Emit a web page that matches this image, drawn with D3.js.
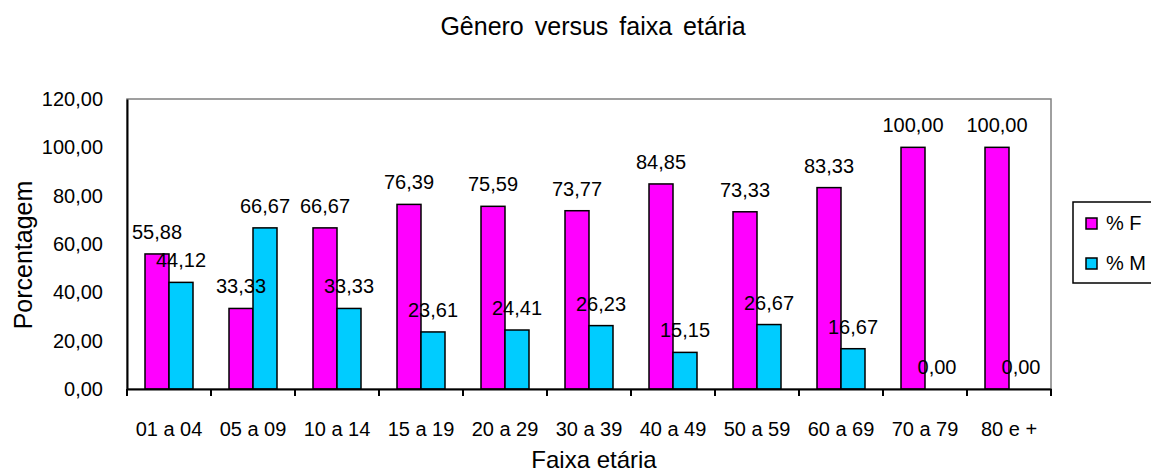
<!DOCTYPE html>
<html>
<head>
<meta charset="utf-8">
<script src="https://cdn.jsdelivr.net/npm/d3@7"></script>
<style>
  html, body { margin: 0; padding: 0; background: #fff; }
  svg { display: block; font-family: "Liberation Sans", Arial, sans-serif; }
</style>
</head>
<body>
<svg id="chart" width="1151" height="473"></svg>
<script>
// Age groups and the share of each gender (%) in each group
const categories = ["01 a 04", "05 a 09", "10 a 14", "15 a 19", "20 a 29", "30 a 39",
                    "40 a 49", "50 a 59", "60 a 69", "70 a 79", "80 e +"];
const femValues  = [55.88, 33.33, 66.67, 76.39, 75.59, 73.77, 84.85, 73.33, 83.33, 100.00, 100.00];
const mascValues = [44.12, 66.67, 33.33, 23.61, 24.41, 26.23, 15.15, 26.67, 16.67, 0.00, 0.00];
const seriesNames = ["% F", "% M"];
const seriesColors = ["#FF00FF", "#00CCFF"];
const yTicks = [0, 20, 40, 60, 80, 100, 120];

const fmt = v => v.toFixed(2).replace(".", ",");

const svg = d3.select("#chart");
const plot = { left: 127, right: 1051, top: 99, bottom: 389 };

const x = d3.scaleBand().domain(categories).range([plot.left, plot.right]).padding(0);
const xs = d3.scaleBand().domain(seriesNames).range([0, x.bandwidth()]).paddingInner(0).paddingOuter(0.75);
const y = d3.scaleLinear().domain([0, 120]).range([plot.bottom, plot.top]);

const rows = categories.map((c, i) => ({ cat: c, values: [femValues[i], mascValues[i]] }));

// Title
svg.append("text")
  .attr("x", 593).attr("y", 35)
  .attr("text-anchor", "middle")
  .attr("font-size", 25)
  .attr("word-spacing", 4)
  .text("Gênero versus faixa etária");

// Plot area frame
svg.append("rect")
  .attr("x", plot.left).attr("y", plot.top)
  .attr("width", plot.right - plot.left).attr("height", plot.bottom - plot.top)
  .attr("fill", "none").attr("stroke", "#808080").attr("stroke-width", 1.5);

// Bars
const groups = svg.append("g").selectAll("g").data(rows).join("g")
  .attr("transform", d => `translate(${x(d.cat)},0)`);

groups.selectAll("rect").data(d => d.values.map((v, k) => ({ v, k }))).join("rect")
  .attr("x", d => xs(seriesNames[d.k]))
  .attr("y", d => y(d.v))
  .attr("width", xs.bandwidth())
  .attr("height", d => y(0) - y(d.v))
  .attr("fill", d => seriesColors[d.k])
  .attr("stroke", "#000").attr("stroke-width", 1.5);

// Value labels
groups.selectAll("text").data(d => d.values.map((v, k) => ({ v, k }))).join("text")
  .attr("x", d => xs(seriesNames[d.k]) + xs.bandwidth() / 2)
  .attr("y", d => y(d.v) - 15)
  .attr("text-anchor", "middle")
  .attr("font-size", 20)
  .text(d => fmt(d.v));

// Y axis
const yAxis = svg.append("g")
  .attr("transform", `translate(${plot.left},0)`)
  .call(d3.axisLeft(y).tickValues(yTicks).tickFormat(fmt).tickSize(0).tickSizeOuter(0).tickPadding(24));
yAxis.select(".domain").attr("stroke", "#000").attr("stroke-width", 2);
yAxis.selectAll(".tick text").attr("font-size", 20).attr("fill", "#000")
  .attr("font-family", "Liberation Sans, Arial, sans-serif");

// X axis with category labels
const xAxis = svg.append("g")
  .attr("transform", `translate(0,${plot.bottom})`)
  .call(d3.axisBottom(x).tickSize(0).tickSizeOuter(0).tickPadding(33));
xAxis.select(".domain").attr("stroke", "#000").attr("stroke-width", 2);
xAxis.selectAll(".tick text").attr("font-size", 20).attr("fill", "#000")
  .attr("font-family", "Liberation Sans, Arial, sans-serif");

// Tick marks between categories
const boundaries = categories.map(c => x(c)).concat([x.range()[1]]);
xAxis.selectAll("line.bound").data(boundaries).join("line")
  .attr("class", "bound")
  .attr("x1", d => d).attr("x2", d => d)
  .attr("y1", 0).attr("y2", 7)
  .attr("stroke", "#000").attr("stroke-width", 2);

// Axis titles
svg.append("text")
  .attr("transform", "translate(32,255) rotate(-90)")
  .attr("text-anchor", "middle")
  .attr("font-size", 25)
  .text("Porcentagem");

svg.append("text")
  .attr("x", 594).attr("y", 468)
  .attr("text-anchor", "middle")
  .attr("font-size", 24)
  .text("Faixa etária");

// Legend
const legend = svg.append("g");
legend.append("rect")
  .attr("x", 1073).attr("y", 202).attr("width", 120).attr("height", 81)
  .attr("fill", "#fff").attr("stroke", "#000").attr("stroke-width", 1.5);
const items = legend.selectAll("g.item").data(seriesNames).join("g")
  .attr("class", "item")
  .attr("transform", (d, i) => `translate(1086,${218 + i * 40})`);
items.append("rect")
  .attr("width", 11).attr("height", 11)
  .attr("fill", (d, i) => seriesColors[i])
  .attr("stroke", "#000").attr("stroke-width", 1.5);
items.append("text")
  .attr("x", 20).attr("y", 12)
  .attr("font-size", 20)
  .text(d => d);
</script>
</body>
</html>
